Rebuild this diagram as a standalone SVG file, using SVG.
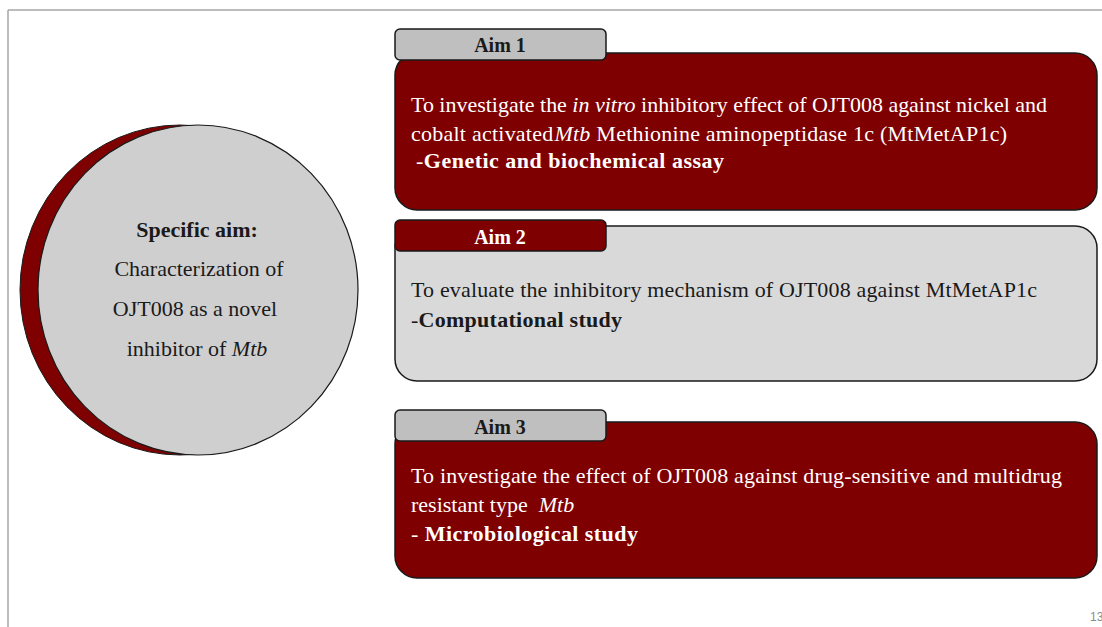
<svg xmlns="http://www.w3.org/2000/svg" width="1102" height="627" viewBox="0 0 1102 627">
<style>
.t{font-family:"Liberation Serif","Times New Roman",serif;font-size:22px}
.c{font-family:"Liberation Serif","Times New Roman",serif;font-size:22px;text-anchor:middle;fill:#1a1a1a}
.w{fill:#ffffff}
.k{fill:#1a1a1a}
.b{font-weight:bold}
.i{font-style:italic}
.tab{font-family:"Liberation Serif","Times New Roman",serif;font-size:20px;font-weight:bold;text-anchor:middle}
.box{stroke:#1a1a1a;stroke-width:1.5}
.red{fill:#7f0000}
.grey{fill:#d9d9d9}
.tabgrey{fill:#bfbfbf}
</style>
<rect width="1102" height="627" fill="#ffffff"/>
<g id="frame" stroke="#a6a6a6" stroke-width="1.5" fill="none">
<line x1="8" y1="10" x2="1102" y2="10"/>
<line x1="8" y1="10" x2="8" y2="627"/>
</g>
<g id="specific-aim">
<ellipse cx="180" cy="290" rx="160" ry="165" class="red" stroke="#1a1a1a" stroke-width="1"/>
<ellipse cx="198" cy="290" rx="160" ry="165" fill="#d0cfd0" stroke="#1a1a1a" stroke-width="1.2"/>
<text x="197" y="237" class="c b">Specific aim:</text>
<text x="199" y="276" class="c">Characterization of</text>
<text x="195" y="316" class="c">OJT008 as a novel</text>
<text x="197" y="356" class="c">inhibitor of <tspan class="i">Mtb</tspan></text>
</g>
<g id="aim1">
<rect x="395" y="53" width="702" height="157" rx="22" class="box red"/>
<rect x="395" y="29" width="211" height="31" rx="5" class="box tabgrey"/>
<text x="500" y="52" class="tab k">Aim 1</text>
<text x="411" y="112" class="t w" textLength="636">To investigate the <tspan class="i">in vitro</tspan> inhibitory effect of OJT008 against nickel and</text>
<text x="411" y="141" class="t w" textLength="596">cobalt activated<tspan class="i" dx="1">Mtb</tspan> Methionine aminopeptidase 1c (MtMetAP1c)</text>
<text x="416" y="168" class="t w" textLength="308">-<tspan class="b">Genetic and biochemical assay</tspan></text>
</g>
<g id="aim2">
<rect x="395" y="226" width="702" height="155" rx="22" class="box grey"/>
<rect x="395" y="220" width="211" height="31" rx="5" class="box red"/>
<text x="500" y="244" class="tab w">Aim 2</text>
<text x="411" y="297" class="t k" textLength="626">To evaluate the inhibitory mechanism of OJT008 against MtMetAP1c</text>
<text x="411" y="327" class="t k" textLength="211">-<tspan class="b">Computational study</tspan></text>
</g>
<g id="aim3">
<rect x="395" y="422" width="702" height="156" rx="22" class="box red"/>
<rect x="395" y="410" width="211" height="31" rx="5" class="box tabgrey"/>
<text x="500" y="434" class="tab k">Aim 3</text>
<text x="411" y="483" class="t w" textLength="651">To investigate the effect of OJT008 against drug-sensitive and multidrug</text>
<text x="411" y="512" class="t w" xml:space="preserve">resistant type  <tspan class="i">Mtb</tspan></text>
<text x="411" y="541" class="t w" textLength="227">- <tspan class="b">Microbiological study</tspan></text>
</g>
<g id="connectors"/>
<text x="1090" y="621" font-family="Liberation Sans, Arial, sans-serif" font-size="12" fill="#8c8c8c">13</text>
</svg>
